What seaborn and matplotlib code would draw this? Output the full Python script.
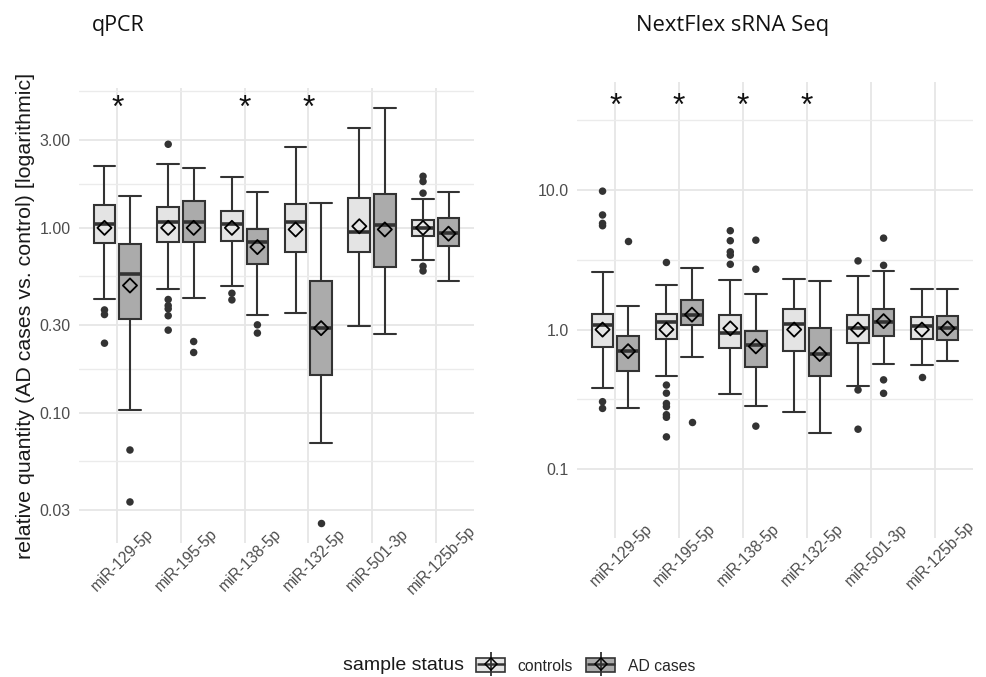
import numpy as np
import pandas as pd
import matplotlib
matplotlib.use("Agg")
import matplotlib.pyplot as plt
import matplotlib.ticker as mticker
import matplotlib.transforms as mtransforms
from matplotlib.patches import Patch
from matplotlib.lines import Line2D
from matplotlib.legend_handler import HandlerTuple
import seaborn as sns

sns.set_theme(style="white")
plt.rcParams['font.family'] = ['Liberation Sans', 'DejaVu Sans']

# categories
mirnas = ['miR-129-5p', 'miR-195-5p', 'miR-138-5p', 'miR-132-5p', 'miR-501-3p', 'miR-125b-5p']
groups = ['controls', 'AD cases']
group_fill = ['#e4e4e4', '#ababab']

# five-number summaries per miRNA: lower whisker, Q1, median, Q3, upper whisker
qpcr_ctrl_box = [[0.41, 0.833, 1.05, 1.33, 2.17],
                 [0.47, 0.837, 1.07, 1.29, 2.21],
                 [0.486, 0.847, 1.05, 1.24, 1.88],
                 [0.346, 0.739, 1.07, 1.34, 2.72],
                 [0.296, 0.745, 0.944, 1.45, 3.46],
                 [0.672, 0.909, 1.00, 1.10, 1.43]]
qpcr_ad_box = [[0.103, 0.322, 0.562, 0.82, 1.49],
               [0.417, 0.837, 1.07, 1.40, 2.10],
               [0.339, 0.637, 0.837, 0.99, 1.56],
               [0.069, 0.16, 0.287, 0.519, 1.37],
               [0.267, 0.618, 1.03, 1.52, 4.44],
               [0.513, 0.80, 0.936, 1.13, 1.57]]
qpcr_ctrl_mean = [1.0, 1.0, 1.0, 0.98, 1.02, 1.0]
qpcr_ad_mean = [0.488, 1.0, 0.787, 0.287, 0.98, 0.93]
qpcr_ctrl_out = [[0.36, 0.34, 0.238],
                 [2.83, 0.41, 0.38, 0.365, 0.335, 0.28],
                 [0.443, 0.408],
                 [],
                 [],
                 [1.9, 1.78, 1.54, 0.62, 0.585]]
qpcr_ad_out = [[0.063, 0.033], [0.243, 0.212], [0.299, 0.27], [0.0255], [], []]

seq_ctrl_box = [[0.38, 0.746, 1.07, 1.30, 2.61],
                [0.461, 0.857, 1.14, 1.30, 2.08],
                [0.344, 0.738, 0.946, 1.27, 2.27],
                [0.255, 0.706, 1.10, 1.41, 2.32],
                [0.397, 0.797, 1.02, 1.28, 2.42],
                [0.56, 0.861, 1.06, 1.23, 1.94]]
seq_ad_box = [[0.275, 0.506, 0.698, 0.895, 1.47],
              [0.632, 1.07, 1.27, 1.63, 2.75],
              [0.285, 0.535, 0.78, 0.983, 1.81],
              [0.18, 0.461, 0.668, 1.02, 2.23],
              [0.569, 0.905, 1.14, 1.41, 2.63],
              [0.60, 0.847, 1.02, 1.25, 1.96]]
seq_ctrl_mean = [1.0, 1.0, 1.02, 1.0, 1.0, 1.0]
seq_ad_mean = [0.70, 1.28, 0.758, 0.668, 1.15, 1.02]
seq_ctrl_out = [[9.84, 6.64, 5.78, 5.56, 0.304, 0.272],
                [3.03, 0.40, 0.35, 0.295, 0.28, 0.245, 0.235, 0.17],
                [5.12, 4.34, 3.61, 3.42, 2.94],
                [],
                [3.11, 0.369, 0.193],
                [0.456]]
seq_ad_out = [[4.29], [0.216], [4.38, 2.71, 0.203], [], [4.53, 2.89, 0.436, 0.349], []]

# significance stars
qpcr_stars = ['miR-129-5p', 'miR-138-5p', 'miR-132-5p']
seq_stars = ['miR-129-5p', 'miR-195-5p', 'miR-138-5p', 'miR-132-5p']

# y axis
qpcr_ticks = [0.03, 0.1, 0.3, 1.0, 3.0]
qpcr_ticklabels = ['0.03', '0.10', '0.30', '1.00', '3.00']
seq_ticks = [0.1, 1.0, 10.0]
seq_ticklabels = ['0.1', '1.0', '10.0']


def long_table(ctrl, ad):
    rows = []
    for g, per_mirna in zip(groups, [ctrl, ad]):
        for m, vals in zip(mirnas, per_mirna):
            for v in np.atleast_1d(vals):
                rows.append((m, g, float(v)))
    return pd.DataFrame(rows, columns=['miRNA', 'status', 'value'])


def draw_panel(ax, box_df, out_df, mean_df, ticks, ticklabels, minor_ext, ylim, stars, star_y):
    ax.set_yscale('log')
    sns.boxplot(data=box_df, x='miRNA', y='value', hue='status', order=mirnas, hue_order=groups,
                palette=group_fill, saturation=1, width=0.8, gap=0.15, whis=(0, 100),
                showfliers=False, linecolor='#333333', linewidth=1.5,
                medianprops={'color': '#333333', 'linewidth': 2.6},
                capwidths=0.34, legend=False, ax=ax)
    sns.stripplot(data=out_df, x='miRNA', y='value', hue='status', order=mirnas, hue_order=groups,
                  palette=['#333333', '#333333'], dodge=True, jitter=False, size=5.4,
                  linewidth=0, legend=False, ax=ax)
    n_before = len(ax.collections)
    sns.stripplot(data=mean_df, x='miRNA', y='value', hue='status', order=mirnas, hue_order=groups,
                  palette=['black', 'black'], dodge=True, jitter=False, size=7.2, marker='D',
                  legend=False, ax=ax)
    for c in ax.collections[n_before:]:
        c.set_facecolor('none')
        c.set_edgecolor('black')
        c.set_linewidth(1.3)
        c.set_zorder(4)

    ax.set_xlim(-0.6, 5.6)
    ax.set_ylim(*ylim)
    ax.yaxis.set_major_locator(mticker.FixedLocator(ticks))
    ax.yaxis.set_major_formatter(mticker.FixedFormatter(ticklabels))
    ext = np.array(minor_ext)
    ax.yaxis.set_minor_locator(mticker.FixedLocator(np.sqrt(ext[:-1] * ext[1:])))
    ax.yaxis.set_minor_formatter(mticker.NullFormatter())

    ax.grid(True, which='major', axis='both', color='#e6e6e6', linewidth=1.3)
    ax.grid(True, which='minor', axis='y', color='#ebebeb', linewidth=1.0)
    ax.set_axisbelow(True)
    for s in ax.spines.values():
        s.set_visible(False)

    ax.tick_params(axis='both', which='both', length=0, colors='#4d4d4d', labelsize=11.5)
    ax.tick_params(axis='y', pad=6)
    ax.tick_params(axis='x', pad=12)
    ax.set_xticks(range(len(mirnas)))
    ax.set_xticklabels(mirnas, rotation=45, ha='center', va='center', rotation_mode='anchor',
                       fontsize=11.2, color='#4d4d4d')
    shift = mtransforms.ScaledTranslation(0.055, 0, ax.figure.dpi_scale_trans)
    for lab in ax.get_xticklabels():
        lab.set_transform(lab.get_transform() + shift)
    ax.set_xlabel('')
    ax.set_ylabel('')

    trans = mtransforms.blended_transform_factory(ax.transData, ax.transAxes)
    for m in stars:
        ax.text(mirnas.index(m), star_y, '*', transform=trans, ha='center', va='center',
                fontsize=23, color='#111111')


fig = plt.figure(figsize=(9.87, 6.77), dpi=100)
ax1 = fig.add_axes([79 / 987, 1 - 543 / 677, 395 / 987, 455 / 677])
ax2 = fig.add_axes([577 / 987, 1 - 538 / 677, 396 / 987, 456 / 677])

draw_panel(ax1, long_table(qpcr_ctrl_box, qpcr_ad_box), long_table(qpcr_ctrl_out, qpcr_ad_out),
           long_table(qpcr_ctrl_mean, qpcr_ad_mean), qpcr_ticks, qpcr_ticklabels,
           [0.01] + qpcr_ticks + [10.0], (0.0198, 5.70), qpcr_stars, 0.955)
draw_panel(ax2, long_table(seq_ctrl_box, seq_ad_box), long_table(seq_ctrl_out, seq_ad_out),
           long_table(seq_ctrl_mean, seq_ad_mean), seq_ticks, seq_ticklabels,
           [0.01] + seq_ticks + [100.0], (0.032, 59.7), seq_stars, 0.945)

ax1.set_ylabel('relative quantity (AD cases vs. control) [logarithmic]', fontsize=15.4, color='#1a1a1a')
ax1.yaxis.set_label_coords(-0.112, 0.5)

fig.text(92 / 987, 1 - 26 / 677, 'qPCR', fontsize=15.5, family=['Open Sans', 'DejaVu Sans'],
         ha='left', va='center', color='#111111')
fig.text(636 / 987, 1 - 26 / 677, 'NextFlex sRNA Seq', fontsize=15.8,
         family=['Open Sans', 'DejaVu Sans'], ha='left', va='center', color='#111111')

# legend with boxplot-like key glyphs
handles = []
for fill in group_fill:
    handles.append((Patch(facecolor=fill, edgecolor='#333333', linewidth=1.2),
                    Line2D([], [], ls='', marker='|', ms=17, mew=1.3, color='#333333'),
                    Line2D([], [], ls='', marker='_', ms=20, mew=1.8, color='#333333'),
                    Line2D([], [], ls='', marker='D', ms=6, mfc='none', mec='black', mew=1.1)))
fig.text(343 / 987, 1 - 666 / 677, 'sample status', fontsize=14, ha='left', va='center', color='#1a1a1a')
fig.legend(handles, groups, loc='center left', bbox_to_anchor=(476 / 987, 1 - 666 / 677),
           ncol=2, frameon=False, fontsize=11.3, handlelength=1.85, handleheight=1.0,
           handletextpad=0.8, columnspacing=0.85, borderaxespad=0, borderpad=0,
           handler_map={tuple: HandlerTuple(ndivide=1, pad=0)})

fig.savefig('out.png', dpi=100, facecolor='white')
